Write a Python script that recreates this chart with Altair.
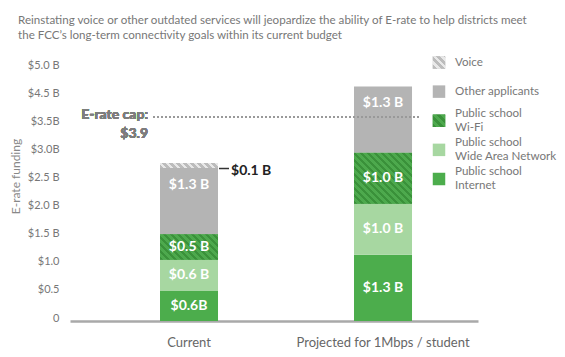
import altair as alt
import pandas as pd
import numpy as np

TITLE_LINES = [
    "Reinstating voice or other outdated services will jeopardize the ability of E-rate to help districts meet",
    "the FCC\u2019s long-term connectivity goals within its current budget",
]
SCENARIOS = ["Current", "Projected for 1Mbps / student"]
SEGMENTS = ["Public school Internet", "Public school Wide Area Network",
            "Public school Wi-Fi", "Other applicants", "Voice"]
CURRENT = [0.6, 0.6, 0.5, 1.3, 0.1]
PROJECTED = [1.3, 1.0, 1.0, 1.3, 0.0]
CURRENT_LABELS = ["$0.6B", "$0.6 B", "$0.5 B", "$1.3 B", "$0.1 B"]
PROJECTED_LABELS = ["$1.3 B", "$1.0 B", "$1.0 B", "$1.3 B", ""]
CAP_LINE = 4.0
CAP_TEXT = "E-rate cap:\n$3.9"
TICK_VALUES = [0, 0.55, 1.1, 1.65, 2.2, 2.75, 3.3, 3.85, 4.4, 4.95]
TICK_LABELS = ["0", "$0.5", "$1.0", "$1.5 B", "$2.0 B", "$2.5 B", "$3.0B", "$3.5B", "$4.5 B", "$5.0 B"]
LEGEND_ORDER = ["Voice", "Other applicants", "Public school Wi-Fi",
                "Public school Wide Area Network", "Public school Internet"]
LEGEND_TEXT = ["Voice", "Other applicants", "Public school\nWi-Fi",
               "Public school\nWide Area Network", "Public school\nInternet"]
SOLID = {
    "Public school Internet": "#4cad4c",
    "Public school Wide Area Network": "#a7d7a1",
    "Public school Wi-Fi": "#3f983f",
    "Other applicants": "#b4b4b4",
    "Voice": "#c4c4c4",
}
HATCH = {
    "Public school Wi-Fi": ("#3a913a", "#4da94d"),
    "Voice": ("#bcbcbc", "#e8e8e8"),
}

FONT = "Lato"
W, H = 408, 260
Y_MAX = 5.1
PX_PER_UNIT = H / Y_MAX
BAR_W = 58

rows = []
for scen, vals, labs in [(SCENARIOS[0], CURRENT, CURRENT_LABELS), (SCENARIOS[1], PROJECTED, PROJECTED_LABELS)]:
    base = 0.0
    for seg, v, lab in zip(SEGMENTS, vals, labs):
        if v <= 0:
            continue
        rows.append(dict(scenario=scen, segment=seg, value=v, y0=base, y1=base + v,
                         mid=base + v / 2, label=lab))
        base += v
df = pd.DataFrame(rows)


def hatch(w, h, c1, c2, period=7.0):
    k = (w + h) / (w * w + h * h)
    a, b = w * k, h * k
    n = (w + h) / period
    stops = []
    for i in range(int(np.ceil(n))):
        t0, tm, t1 = i / n, min((i + 0.5) / n, 1), min((i + 1) / n, 1)
        stops += [(t0, c1), (tm, c1), (tm, c2), (t1, c2)]
    return alt.LinearGradient(
        gradient="linear", x1=0, y1=1, x2=float(a), y2=float(1 - b),
        stops=[alt.GradientStop(offset=float(o), color=c) for o, c in stops])


xscale = alt.Scale(domain=SCENARIOS, paddingInner=0.701, paddingOuter=0.402, align=0.577)
xaxis = alt.Axis(title=None, labelAngle=0, ticks=False, domainColor="#a9a9a9", domainWidth=2.5,
                 labelPadding=15, labelFontSize=13, labelColor="#666", labelFont=FONT, labelLimit=400)
yscale = alt.Scale(domain=[0, Y_MAX], nice=False, zero=True)
label_expr = "[" + ",".join("'%s'" % t for t in TICK_LABELS) + "][indexof([" + \
    ",".join(str(v) for v in TICK_VALUES) + "], datum.value)]"
yaxis = alt.Axis(values=TICK_VALUES, labelExpr=label_expr, ticks=False, domain=False, grid=False,
                 labelPadding=11, labelOffset=-3, labelFontSize=11, labelColor="#777", labelFont=FONT,
                 title="E-rate funding", titleX=-55, titleY=115, titleAlign="center",
                 titleBaseline="middle", titleFontSize=12, titleFontWeight="normal",
                 titleColor="#888", titleFont=FONT)

X = alt.X("scenario:N", scale=xscale, sort=SCENARIOS, axis=xaxis)
XR = alt.X("scenario:N", scale=xscale, sort=SCENARIOS, axis=xaxis, bandPosition=1)
Y0 = alt.Y("y0:Q", scale=yscale, axis=yaxis)
color_scale = alt.Scale(domain=list(SOLID.keys()), range=list(SOLID.values()))
color = alt.Color("segment:N", scale=color_scale, legend=None)

base = alt.Chart(df)
bars = base.mark_bar().encode(x=X, y=Y0, y2="y1:Q", color=color)

layers = [bars]
for _, r in df.iterrows():
    if r["segment"] in HATCH:
        c1, c2 = HATCH[r["segment"]]
        g = hatch(BAR_W, r["value"] * PX_PER_UNIT, c1, c2)
        layers.append(
            alt.Chart(df).transform_filter(
                (alt.datum.scenario == r["scenario"]) & (alt.datum.segment == r["segment"])
            ).mark_bar(fill=g).encode(x=X, y=Y0, y2="y1:Q"))

mid_labels = base.transform_filter(
    "datum.segment != 'Other applicants' && datum.segment != 'Voice'"
).mark_text(color="white", fontWeight="bold", fontSize=14, font=FONT, baseline="middle").encode(
    x=X, y=alt.Y("mid:Q", scale=yscale, axis=yaxis), text="label:N")
top_labels = base.transform_filter("datum.segment == 'Other applicants'").mark_text(
    color="white", fontWeight="bold", fontSize=14, font=FONT, baseline="middle", dy=17).encode(
    x=X, y=alt.Y("y1:Q", scale=yscale, axis=yaxis), text="label:N")
voice_dash = base.transform_filter("datum.segment == 'Voice'").mark_point(
    shape="M-1,0L1,0", size=100, filled=False, stroke="#333", strokeWidth=1.5, xOffset=6,
    yOffset=3, opacity=1
).encode(x=XR, y=alt.Y("mid:Q", scale=yscale, axis=yaxis))
voice_label = base.transform_filter("datum.segment == 'Voice'").mark_text(
    color="#222", fontWeight="bold", fontSize=14, font=FONT, align="left", baseline="middle", dx=13, dy=5
).encode(x=XR, y=alt.Y("mid:Q", scale=yscale, axis=yaxis), text="label:N")

cap_rule = alt.Chart(df).mark_rule(strokeDash=[2, 2], color="#9a9a9a", strokeWidth=1).encode(
    x=alt.value(83), x2=alt.value(350), y=alt.Y(datum=CAP_LINE, type="quantitative", scale=yscale, axis=yaxis))
cap_text = alt.Chart(df).mark_text(
    align="right", baseline="top", dy=-9, fontSize=14, fontWeight="bold", color="#7d7d7d",
    font=FONT, lineBreak="\n", lineHeight=19).encode(
    x=alt.value(78), y=alt.Y(datum=CAP_LINE, type="quantitative", scale=yscale, axis=yaxis),
    text=alt.value(CAP_TEXT))

layers += [mid_labels, top_labels, voice_dash, voice_label, cap_rule, cap_text]
main = alt.layer(*layers)

# legend
leg_df = pd.DataFrame({"name": LEGEND_ORDER, "text": LEGEND_TEXT})
leg_df["lines"] = leg_df["text"].str.count("\n") + 1
ly = alt.Y("name:N", scale=alt.Scale(type="point", domain=LEGEND_ORDER, range=[1.5, 118], padding=0),
           axis=None)
leg_color = alt.Color("name:N", scale=color_scale, legend=None)
leg_base = alt.Chart(leg_df)
leg_sw = leg_base.mark_square(size=156, opacity=1).encode(
    x=alt.value(369), y=ly, color=leg_color)
leg_layers = [leg_sw]
for name, (c1, c2) in HATCH.items():
    leg_layers.append(leg_base.transform_filter(alt.datum.name == name).mark_square(
        size=156, opacity=1, fill=hatch(12.5, 12.5, c1, c2, period=8)).encode(x=alt.value(369), y=ly))
LH = 14.5
leg_txt1 = leg_base.transform_filter("datum.lines == 1").mark_text(
    align="left", baseline="middle", fontSize=11.6, lineHeight=LH,
    color="#777", font=FONT, lineBreak="\n").encode(x=alt.value(385), y=ly, text="text:N")
leg_txt2 = leg_base.transform_filter("datum.lines == 2").mark_text(
    align="left", baseline="middle", fontSize=11.6, lineHeight=LH, dy=-LH / 2,
    color="#777", font=FONT, lineBreak="\n").encode(x=alt.value(385), y=ly, text="text:N")
leg_layers += [leg_txt1, leg_txt2]
legend = alt.layer(*leg_layers)

chart = alt.layer(main, legend).resolve_scale(y="independent").properties(
    width=W, height=H,
    autosize=alt.AutoSizeParams(type="none"),
    padding={"left": 62, "top": 53, "right": 79, "bottom": 28},
    title=alt.TitleParams(text=TITLE_LINES, anchor="start", frame="group", dx=-52, offset=15,
                          fontSize=11.6, fontWeight="normal", color="#777", font=FONT, lineHeight=15),
).configure_view(stroke=None)

chart.save("out.html", embed_options={"renderer": "svg", "actions": False})
